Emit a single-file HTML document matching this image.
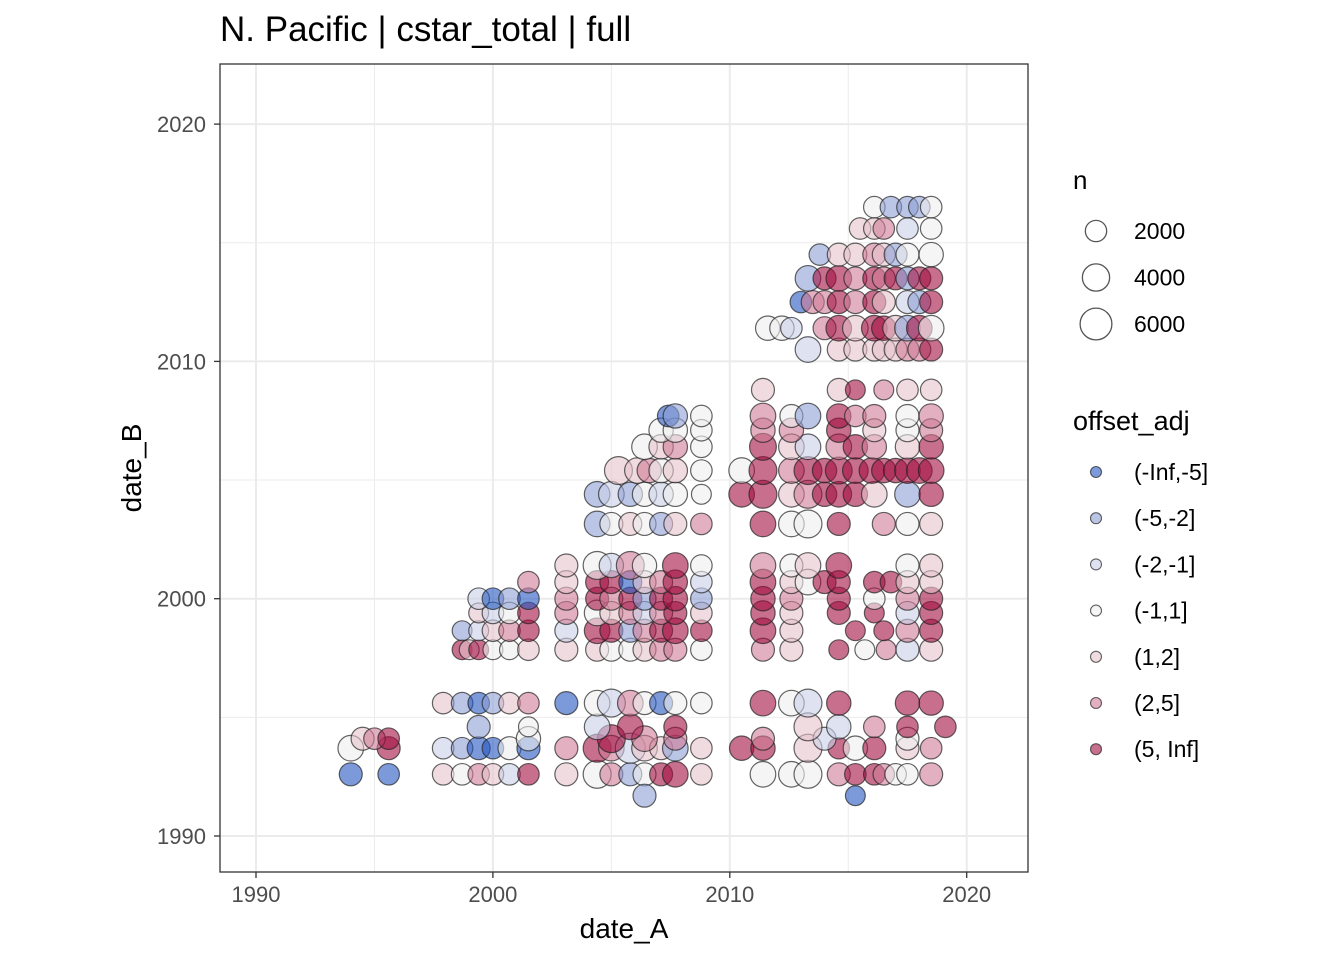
<!DOCTYPE html>
<html><head><meta charset="utf-8"><style>
body{margin:0;background:#fff;font-family:"Liberation Sans",sans-serif}
</style></head><body>
<svg id="chart" width="1344" height="960" viewBox="0 0 1344 960" font-family="Liberation Sans, sans-serif">
<g id="grid"></g>
<g id="points"></g>
<rect x="220" y="64" width="808" height="808" fill="none" stroke="#333" stroke-width="1.3"/>
<g id="axes"></g>
<text x="220" y="41" font-size="35" fill="#000">N. Pacific | cstar_total | full</text>
<text x="624" y="938" font-size="28" text-anchor="middle" fill="#000">date_A</text>
<text transform="translate(141,468) rotate(-90)" font-size="28" text-anchor="middle" fill="#000">date_B</text>
<g id="legend"></g>
</svg>
<script>
const xTicks = [1990, 2000, 2010, 2020];
const yTicks = [1990, 2000, 2010, 2020];
const minorTicks = [1995, 2005, 2015];
const nLegend = [2000, 4000, 6000];
const clsLabels = ["(-Inf,-5]","(-5,-2]","(-2,-1]","(-1,1]","(1,2]","(2,5]","(5, Inf]"];
const clsColors = ["#2457c0","#8d9fd3","#c9d0e8","#efefef","#e6c3cc","#cf7b96","#a10f41"];

const rowB = [1992.6,1991.7,1993.7,1994.1,1994.6,1995.6,
 1997.85,1998.65,1999.4,2000,2000.7,2001.4,
 2003.15,2004.4,2005.4,2006.4,2007.1,2007.7,2008.8,
 2010.5,2011.4,2012.5,2013.5,2014.5,2015.6,2016.5];
const rowA = [
 [1994.0,1995.6,1997.9,1998.7,1999.4,2000,2000.7,2001.5,2003.1,2004.4,2005,2005.8,2006.4,2007.1,2007.7,2008.8,2011.4,2012.6,2013.3,2014.6,2015.3,2016.1,2016.5,2017,2017.5,2018.5],
 [2006.4,2015.3],
 [1994,1995.6,1997.9,1998.7,1999.4,2000,2000.7,2001.5,2003.1,2004.4,2005,2005.8,2006.4,2007.1,2007.7,2008.8,2010.5,2011.4,2013.3,2014.6,2015.3,2016.1,2017.5,2018.5],
 [1994.5,1995,1995.6,2001.5,2005,2006.4,2007.7,2011.4,2014,2017.5],
 [1999.4,2001.5,2004.4,2005.8,2007.7,2013.3,2014.6,2016.1,2017.5,2019.1],
 [1997.9,1998.7,1999.4,2000,2000.7,2001.5,2003.1,2004.4,2005,2005.8,2006.4,2007.1,2007.7,2008.8,2011.4,2012.6,2013.3,2014.6,2017.5,2018.5],
 [1998.7,1999,1999.4,2000,2000.7,2001.5,2003.1,2004.4,2005,2005.8,2006.4,2007.1,2007.7,2008.8,2011.4,2012.6,2014.6,2015.7,2016.6,2017.5,2018.5],
 [1998.7,1999.4,2000,2000.7,2001.5,2003.1,2004.4,2005,2005.8,2006.4,2007.1,2007.7,2008.8,2011.4,2012.6,2015.3,2016.5,2017.5,2018.5],
 [1999.4,2000,2000.7,2001.5,2003.1,2004.4,2005,2005.8,2006.4,2007.1,2007.7,2008.8,2011.4,2012.6,2014.6,2016.1,2017.5,2018.5],
 [1999.4,2000,2000.7,2001.5,2003.1,2004.4,2005,2005.8,2006.4,2007.1,2007.7,2008.8,2011.4,2012.6,2014.6,2016.1,2017.5,2018.5],
 [2001.5,2003.1,2004.4,2005,2005.8,2006.4,2007.1,2007.7,2008.8,2011.4,2012.6,2013.3,2014,2014.6,2016.1,2016.8,2017.5,2018.5],
 [2003.1,2004.4,2005,2005.8,2006.4,2007.7,2008.8,2011.4,2012.6,2013.3,2014.6,2017.5,2018.5],
 [2004.4,2005,2005.8,2006.4,2007.1,2007.7,2008.8,2011.4,2012.6,2013.3,2014.6,2016.5,2017.5,2018.5],
 [2004.4,2005,2005.8,2006.4,2007.1,2007.7,2008.8,2010.5,2011.4,2012.6,2013.3,2014,2014.6,2015.3,2016.1,2017.5,2018.5],
 [2005.3,2006.1,2006.6,2007.1,2007.7,2008.8,2010.5,2011.4,2012.6,2013.3,2014,2014.6,2015.3,2016,2016.5,2017,2017.5,2018,2018.5],
 [2006.4,2007.1,2007.7,2008.8,2011.4,2012.6,2013.3,2014.6,2015.3,2016.1,2017.5,2018.5],
 [2007.1,2007.7,2008.8,2011.4,2012.6,2014.6,2016.1,2017.5,2018.5],
 [2007.4,2007.7,2008.8,2011.4,2012.6,2013.3,2014.6,2015.3,2016.1,2017.5,2018.5],
 [2011.4,2014.6,2015.3,2016.5,2017.5,2018.5],
 [2013.3,2014.6,2015.3,2016.1,2016.5,2017,2017.5,2018,2018.5],
 [2011.6,2012.2,2012.6,2014,2014.6,2015.3,2016.1,2016.5,2017,2017.5,2018,2018.5],
 [2013,2013.5,2014,2014.6,2015.3,2016.1,2016.5,2017.5,2018,2018.5],
 [2013.3,2014,2014.6,2015.3,2016.1,2016.5,2017,2017.5,2018,2018.5],
 [2013.8,2014.6,2015.3,2016.1,2016.5,2017,2017.5,2018.5],
 [2015.5,2016.1,2016.5,2017.5,2018.5],
 [2016.1,2016.8,2017.5,2018,2018.5]
];
const rowCls = [
 [0,0,4,3,5,4,2,6,4,3,5,1,3,6,6,4,3,3,3,5,6,6,5,3,3,5],
 [1,0],
 [3,6,2,1,0,0,3,0,5,6,5,2,4,4,1,4,6,6,4,6,3,6,4,5],
 [4,5,6,3,6,5,5,5,2,3],
 [1,3,2,6,6,4,2,5,6,6],
 [4,1,0,1,4,5,0,3,2,5,3,0,3,3,6,3,2,6,6,6],
 [6,4,6,3,3,4,4,4,3,3,4,5,5,3,5,4,6,3,5,2,4],
 [1,2,4,5,6,2,6,6,1,5,6,6,6,6,4,6,6,5,6],
 [4,2,3,6,5,3,4,5,2,5,6,4,6,4,6,6,2,6],
 [2,0,1,0,5,6,5,6,1,6,6,1,6,5,6,3,5,6],
 [5,4,6,6,0,4,5,6,2,6,4,3,6,6,6,6,4,4],
 [4,3,2,5,3,6,3,5,3,4,6,3,4],
 [1,3,4,3,1,4,5,6,3,3,6,5,3,4],
 [1,2,1,3,2,3,3,6,6,4,5,6,6,6,4,1,6],
 [4,4,5,3,4,3,3,6,5,6,6,6,6,6,6,6,6,6,6],
 [3,4,5,3,6,4,2,5,6,5,4,6],
 [3,3,3,5,5,6,4,3,5],
 [0,1,3,5,3,1,6,5,5,3,5],
 [4,4,6,5,4,4],
 [2,4,4,4,4,4,5,5,6],
 [3,3,2,5,6,4,6,6,4,1,6,3],
 [0,5,5,6,5,6,4,2,1,6],
 [1,6,6,5,6,5,6,1,6,6],
 [1,4,4,5,4,1,3,3],
 [4,4,5,2,3],
 [3,1,1,1,3]
];
const rowN = [
 [3000,2500,2500,2500,2500,2500,2500,2500,3000,5000,3000,3000,3000,3000,4000,2500,4000,4000,5000,3000,2500,2500,2500,2500,2500,3000],
 [3000,2000],
 [4000,3000,2500,2500,3000,2500,3000,3000,3000,5000,4000,6000,4000,3000,4000,2500,3500,3500,5000,2500,3500,3000,3000,2500],
 [3000,2500,2500,3500,5000,4000,3000,3000,3000,3000],
 [3000,2000,4000,4000,3000,5000,3500,2500,2500,2500],
 [2500,2500,2500,2500,2500,2500,3000,4000,5000,4000,3000,3000,3000,2500,4000,4000,5000,3500,3500,3500],
 [2000,2000,2000,2000,2000,2500,3000,3000,3000,3000,3000,3000,3000,2500,3000,3000,2000,2000,2000,3000,3000],
 [2000,2000,2500,2500,2500,3000,4000,3000,3000,3000,3000,4000,2500,4000,3000,2000,2000,3000,3000],
 [2000,2500,2500,2500,3000,4000,3000,3000,3000,3000,3000,2500,3500,3000,3000,2000,3000,3000],
 [2500,2500,2500,2500,3000,3000,3000,3000,3000,3000,3500,2500,3500,3000,3000,2500,3000,3000],
 [2500,3000,3000,3000,3000,3000,3000,3500,2500,4000,3000,4000,3000,3000,2500,2500,3000,3000],
 [3000,5000,3500,5000,3500,4000,2500,4000,3000,4000,4000,3000,3000],
 [4000,3000,3000,3000,3000,3000,2500,4000,4000,5000,3000,3000,3000,3000],
 [4000,4000,3500,3500,3500,3500,2000,4000,5000,4000,5000,3500,4000,3500,4000,4000,3500],
 [5000,4000,3500,3500,3500,2500,4000,5000,4000,5000,3500,4500,4000,4000,3500,3500,4000,4000,4000],
 [4000,3500,3500,2500,4500,4000,4000,4000,3500,3500,3500,3500],
 [3500,3500,2500,3500,3500,3500,3000,3000,3000],
 [2500,3500,2500,4000,3000,4000,3500,2500,3000,3000,3500],
 [3000,3000,2000,2000,2500,2500],
 [4000,3000,3000,3000,3000,3000,3000,3000,3000],
 [3500,3500,2500,3000,4000,4000,4000,3500,4000,4000,4000,4000],
 [2500,3000,3000,3000,3000,3000,3000,3000,3000,3000],
 [4000,3000,4000,3000,3000,3000,3000,3000,3000,3000],
 [2500,3000,3000,3000,3000,3000,3000,3500],
 [2500,2500,2500,2500,2500],
 [2500,2500,2500,2500,2500]
];

const NS="http://www.w3.org/2000/svg";
const X0=220,X1=1028,Y0=64,Y1=872;
const xScale=v=>256+(v-1990)*23.69;
const yScale=v=>836-(v-1990)*23.73;
const rScale=n=>3+Math.sqrt(n)*0.155;
const rLegend=n=>4+Math.sqrt(n)*0.16;
function mk(tag,attrs,parent){const e=document.createElementNS(NS,tag);for(const k in attrs)e.setAttribute(k,attrs[k]);parent.appendChild(e);return e;}

const grid=document.getElementById('grid');
mk('rect',{x:X0,y:Y0,width:X1-X0,height:Y1-Y0,fill:'#fff'},grid);
minorTicks.forEach(t=>{
 const a=mk('line',{x1:xScale(t),x2:xScale(t),y1:Y0,y2:Y1,stroke:'#ebebeb','stroke-width':1},grid);
 
 
 const b=mk('line',{x1:X0,x2:X1,y1:yScale(t),y2:yScale(t),stroke:'#ebebeb','stroke-width':1},grid);
 
 
});
const axes=document.getElementById('axes');
xTicks.forEach(t=>{
 const l=mk('line',{x1:xScale(t),x2:xScale(t),y1:Y0,y2:Y1,stroke:'#ebebeb','stroke-width':2},grid);
 
 
 mk('line',{x1:xScale(t),x2:xScale(t),y1:Y1,y2:Y1+6,stroke:'#333','stroke-width':1.3},axes);
 const tx=mk('text',{x:xScale(t),y:902,'font-size':22,'text-anchor':'middle',fill:'#4d4d4d'},axes);
 tx.textContent=t;
 
 
});
yTicks.forEach(t=>{
 const l=mk('line',{x1:X0,x2:X1,y1:yScale(t),y2:yScale(t),stroke:'#ebebeb','stroke-width':2},grid);
 
 
 mk('line',{x1:X0-6,x2:X0,y1:yScale(t),y2:yScale(t),stroke:'#333','stroke-width':1.3},axes);
 const tx=mk('text',{x:X0-14,y:yScale(t)+8,'font-size':22,'text-anchor':'end',fill:'#4d4d4d'},axes);
 tx.textContent=t;
 
 
});

const pts=document.getElementById('points');
rowB.forEach((b,i)=>{
 rowA[i].forEach((a,j)=>{
  const c=mk('circle',{cx:xScale(a),cy:yScale(b),r:rScale(rowN[i][j]),fill:clsColors[rowCls[i][j]],'fill-opacity':0.6,stroke:'#222','stroke-opacity':0.7,'stroke-width':1.2},pts);
  
  
 });
});

const lg=document.getElementById('legend');
const t1=mk('text',{x:1073,y:189,'font-size':26,fill:'#000'},lg);
t1.textContent='n';


nLegend.forEach((n,i)=>{
 const y=231+i*46.5;
 const c=mk('circle',{cx:1096,cy:y,r:rLegend(n)-0.5,fill:'none',stroke:'#555','stroke-width':1.3},lg);
 
 
 const tx=mk('text',{x:1134,y:y+8,'font-size':23,fill:'#000'},lg);
 tx.textContent=n;
 
 
});
const t2=mk('text',{x:1073,y:430,'font-size':27,fill:'#000'},lg);
t2.textContent='offset_adj';


clsLabels.forEach((lab,i)=>{
 const y=472+i*46.2;
 const c=mk('circle',{cx:1096,cy:y,r:5.5,fill:clsColors[i],'fill-opacity':0.6,stroke:'#222','stroke-opacity':0.7,'stroke-width':1.1},lg);
 
 
 const tx=mk('text',{x:1134,y:y+8,'font-size':23,fill:'#000'},lg);
 tx.textContent=lab;
 
 
});
</script>
</body></html>
